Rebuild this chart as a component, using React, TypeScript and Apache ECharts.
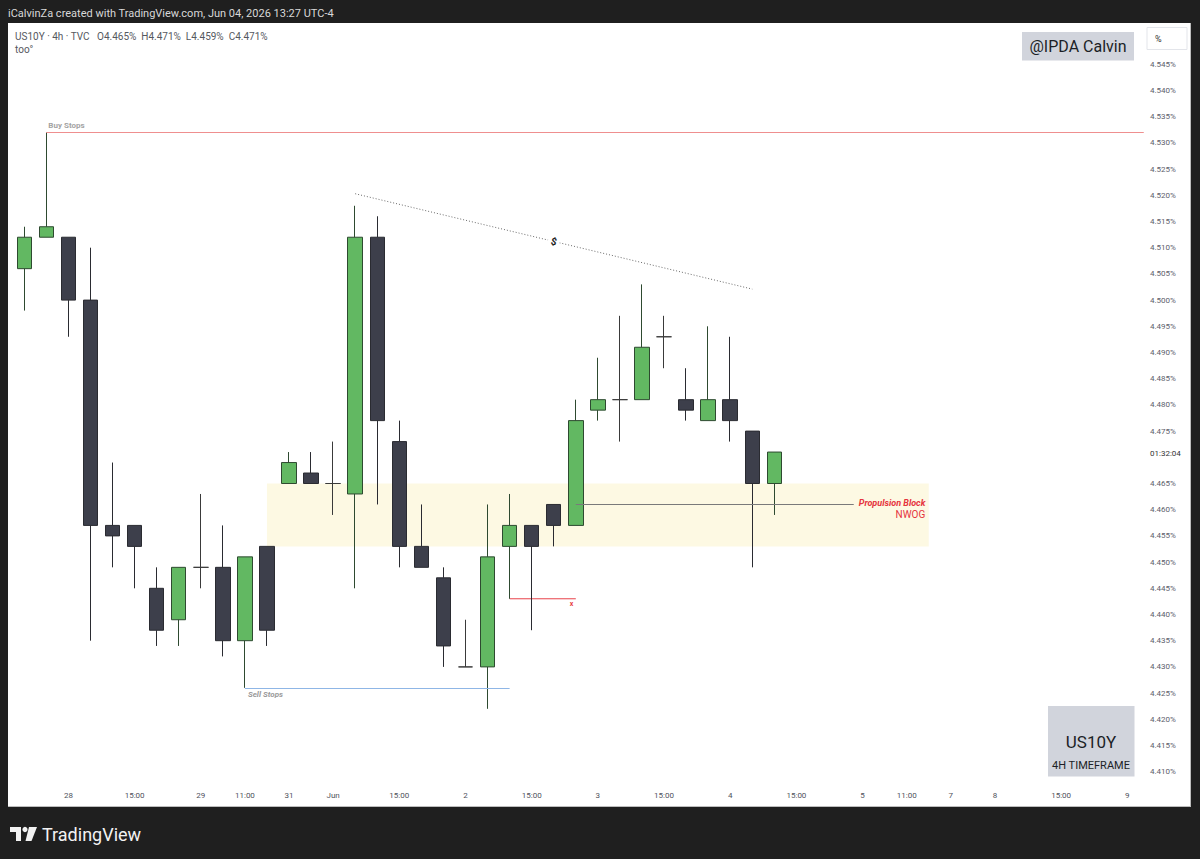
import React, { useEffect, useRef } from 'react';
import * as echarts from 'echarts';

// ---- data (bar index 0 = first visible candle, 4h bars) ----
const barIndex = [0, 1, 2, 3, 4, 5, 6, 7, 8, 9, 10, 11, 12, 13, 14, 15, 16, 17, 18, 19, 20, 21, 22, 23, 24, 25, 26, 27, 28, 29, 30, 31, 32, 33, 34];
const opens = [4.506, 4.512, 4.512, 4.5, 4.457, 4.457, 4.445, 4.439, 4.449, 4.449, 4.435, 4.453, 4.465, 4.467, 4.465, 4.463, 4.512, 4.473, 4.453, 4.447, 4.43, 4.43, 4.453, 4.457, 4.461, 4.457, 4.479, 4.481, 4.481, 4.493, 4.481, 4.477, 4.481, 4.475, 4.465];
const highs = [4.514, 4.532, 4.512, 4.51, 4.469, 4.457, 4.449, 4.449, 4.463, 4.457, 4.451, 4.453, 4.471, 4.471, 4.473, 4.518, 4.516, 4.477, 4.461, 4.449, 4.439, 4.461, 4.463, 4.457, 4.461, 4.481, 4.489, 4.497, 4.503, 4.497, 4.487, 4.495, 4.493, 4.475, 4.471];
const lows = [4.498, 4.512, 4.493, 4.435, 4.449, 4.445, 4.434, 4.434, 4.445, 4.432, 4.426, 4.434, 4.465, 4.465, 4.459, 4.445, 4.461, 4.449, 4.449, 4.43, 4.43, 4.422, 4.443, 4.437, 4.453, 4.457, 4.477, 4.473, 4.481, 4.487, 4.477, 4.477, 4.473, 4.449, 4.459];
const closes = [4.512, 4.514, 4.5, 4.457, 4.455, 4.453, 4.437, 4.449, 4.449, 4.435, 4.451, 4.437, 4.469, 4.465, 4.465, 4.512, 4.477, 4.453, 4.449, 4.434, 4.43, 4.451, 4.457, 4.453, 4.457, 4.477, 4.481, 4.481, 4.491, 4.493, 4.479, 4.481, 4.477, 4.465, 4.471];

const priceTicks = [4.41, 4.415, 4.42, 4.425, 4.43, 4.435, 4.44, 4.445, 4.45, 4.455, 4.46, 4.465, 4.475, 4.48, 4.485, 4.49, 4.495, 4.5, 4.505, 4.51, 4.515, 4.52, 4.525, 4.53, 4.535, 4.54, 4.545];
const timeTickIndex = [2, 5, 8, 10, 12, 14, 17, 20, 23, 26, 29, 32, 35, 38, 40, 42, 44, 47, 50];
const timeTickLabels = ['28', '15:00', '29', '11:00', '31', 'Jun', '15:00', '2', '15:00', '3', '15:00', '4', '15:00', '5', '11:00', '7', '8', '15:00', '9'];

// annotation levels
const buyStopsLevel = 4.532;
const buyStopsFrom = 1;
const sellStopsLevel = 4.426;
const sellStopsFrom = 10;
const sellStopsTo = 22;
const zoneTop = 4.465;
const zoneBottom = 4.453;
const zoneFrom = 11;
const zoneTo = 41;
const propulsionLevel = 4.461;
const propulsionFrom = 25;
const propulsionTo = 37.6;
const lowMarkLevel = 4.443;
const lowMarkFrom = 22;
const lowMarkTo = 25;
const trendFrom = [15, 4.5203];
const trendTo = [33, 4.5021];

// ---- layout ----
const GRID_LEFT = 8;
const GRID_TOP = 23;
const GRID_W = 1136;
const GRID_H = 758;
const X_MIN = -0.739;
const X_MAX = 50.757;
const Y_MAX = 4.552882;
const Y_MIN = 4.408225;
const FONT = 'Roboto, "Noto Sans", sans-serif';
const RED = '#e8424a';

export default function App() {
  const ref = useRef<HTMLDivElement>(null);

  useEffect(() => {
    if (!ref.current) return;
    const chart = echarts.init(ref.current, undefined, { renderer: 'svg' });
    const candleData = barIndex.map((x, i) => [x, opens[i], closes[i], lows[i], highs[i]]);

    const option: any = {
      animation: false,
      backgroundColor: 'transparent',
      grid: { left: GRID_LEFT, top: GRID_TOP, width: GRID_W, height: GRID_H, containLabel: false, outerBoundsMode: 'none' },
      xAxis: {
        type: 'value',
        min: X_MIN,
        max: X_MAX,
        axisLine: { show: false },
        axisTick: { show: false },
        splitLine: { show: false },
        axisLabel: {
          customValues: timeTickIndex,
          formatter: (v: number) => {
            const k = timeTickIndex.indexOf(Math.round(v));
            return k >= 0 ? timeTickLabels[k] : '';
          },
          color: '#4f525c',
          fontSize: 8,
          fontFamily: FONT,
          margin: 10,
        },
      },
      yAxis: {
        type: 'value',
        position: 'right',
        min: Y_MIN,
        max: Y_MAX,
        scale: true,
        axisLine: { show: false },
        axisTick: { show: false },
        splitLine: { show: false },
        axisLabel: {
          customValues: priceTicks,
          formatter: (v: number) => v.toFixed(3) + '%',
          color: '#5d606b',
          fontSize: 8,
          fontFamily: FONT,
          margin: 6,
          align: 'left',
        },
      },
      series: [
        {
          type: 'candlestick',
          data: candleData,
          barWidth: 15,
          z: 3,
          itemStyle: {
            color: '#62b862',
            color0: '#3d3f4b',
            borderColor: '#2e4a30',
            borderColor0: '#2a2b31',
            borderColorDoji: '#3a3a3a',
            borderWidth: 1,
          },
          markArea: {
            silent: true,
            itemStyle: { color: '#fdf9e3' },
            data: [[{ coord: [zoneFrom, zoneTop] }, { coord: [zoneTo, zoneBottom] }]],
          },
        },
        {
          type: 'line',
          data: [[lowMarkFrom, lowMarkLevel], [lowMarkTo, lowMarkLevel]],
          silent: true,
          z: 2,
          symbol: 'none',
          showSymbol: false,
          color: RED,
          lineStyle: { color: RED, width: 1 },
          endLabel: {
            show: true,
            formatter: 'x',
            color: RED,
            fontSize: 7,
            fontWeight: 'bold',
            fontFamily: FONT,
            offset: [-14, 5],
          },
        },
        {
          type: 'line',
          data: [],
          silent: true,
          markLine: {
            silent: true,
            symbol: ['none', 'none'],
            data: [
              [
                {
                  coord: [buyStopsFrom, buyStopsLevel],
                  lineStyle: { color: '#ef8f8f', width: 1, type: 'solid' },
                  label: {
                    show: true, position: 'insideStartTop', formatter: 'Buy Stops',
                    color: '#a3a3a3', fontSize: 8, fontWeight: 'bold', fontFamily: FONT, distance: [2, 3],
                  },
                },
                { coord: [X_MAX - 0.01, buyStopsLevel] },
              ],
              [
                {
                  coord: [sellStopsFrom, sellStopsLevel],
                  lineStyle: { color: '#8fb6e6', width: 1, type: 'solid' },
                  label: {
                    show: true, position: 'insideStartBottom', formatter: 'Sell Stops',
                    color: '#9a9a9a', fontSize: 8, fontStyle: 'italic', fontWeight: 'bold', fontFamily: FONT, distance: [3, 3],
                  },
                },
                { coord: [sellStopsTo, sellStopsLevel] },
              ],
              [
                {
                  coord: [propulsionFrom, propulsionLevel],
                  lineStyle: { color: '#7a7a7a', width: 1, type: 'solid' },
                  label: {
                    show: true, position: 'end', distance: 5,
                    formatter: '{a|Propulsion Block}\n{b|NWOG}',
                    padding: [9, 0, 0, 0],
                    rich: {
                      a: { color: '#e5343d', fontSize: 9, fontWeight: 'bold', fontStyle: 'italic', fontFamily: FONT, lineHeight: 11, align: 'right' },
                      b: { color: '#e5343d', fontSize: 10, fontFamily: FONT, lineHeight: 11, align: 'right' },
                    },
                  },
                },
                { coord: [propulsionTo, propulsionLevel] },
              ],
              [
                {
                  coord: trendFrom,
                  lineStyle: { color: '#6b6b6b', width: 1, type: [1, 2] },
                  label: {
                    show: true, position: 'insideMiddle', formatter: '$',
                    color: '#222', fontSize: 10, fontWeight: 'bold', fontFamily: FONT,
                    backgroundColor: '#ffffff', padding: [0, 3],
                  },
                },
                { coord: trendTo },
              ],
            ],
          },
        },
      ],
      graphic: [
        {
          type: 'text', x: 8, y: 13,
          style: { text: 'iCalvinZa created with TradingView.com, Jun 04, 2026 13:27 UTC-4', fill: '#d8d8d8', font: '11px ' + FONT, verticalAlign: 'middle' },
        },
        {
          type: 'text', x: 15, y: 36,
          style: { text: 'US10Y · 4h · TVC   O4.465%  H4.471%  L4.459%  C4.471%', fill: '#555860', font: '10px ' + FONT, verticalAlign: 'middle' },
        },
        {
          type: 'text', x: 15, y: 49.5,
          style: { text: 'too°', fill: '#555860', font: '10px ' + FONT, verticalAlign: 'middle' },
        },
        {
          type: 'rect', shape: { x: 1022, y: 32, width: 112, height: 28.5 },
          style: { fill: '#d1d4dc' },
        },
        {
          type: 'text', x: 1078, y: 46.5,
          style: { text: '@IPDA Calvin', fill: '#1c1f26', font: '16px ' + FONT, align: 'center', verticalAlign: 'middle' },
        },
        {
          type: 'rect', shape: { x: 1147, y: 27.5, width: 40, height: 22 },
          style: { fill: '#ffffff', stroke: '#e3e5ea', lineWidth: 1 },
        },
        {
          type: 'text', x: 1155, y: 38.5,
          style: { text: '%', fill: '#333', font: '9px ' + FONT, verticalAlign: 'middle' },
        },
        {
          type: 'text', x: 1150, y: 453,
          style: { text: '01:32:04', fill: '#333', font: '8px ' + FONT, verticalAlign: 'middle' },
        },
        {
          type: 'rect', shape: { x: 1048, y: 706, width: 86.5, height: 70.5 },
          style: { fill: '#d1d4dc' },
        },
        {
          type: 'text', x: 1091, y: 742,
          style: { text: 'US10Y', fill: '#1c1f26', font: '17px ' + FONT, align: 'center', verticalAlign: 'middle' },
        },
        {
          type: 'text', x: 1091, y: 765,
          style: { text: '4H TIMEFRAME', fill: '#1c1f26', font: '11px ' + FONT, align: 'center', verticalAlign: 'middle' },
        },
        {
          type: 'polygon',
          shape: { points: [[10, 827], [21, 827], [21, 841], [16, 841], [16, 832], [10, 832]] },
          style: { fill: '#f2f2f2' },
        },
        {
          type: 'circle', shape: { cx: 25, cy: 829.5, r: 2.6 },
          style: { fill: '#f2f2f2' },
        },
        {
          type: 'polygon',
          shape: { points: [[29, 827], [37, 827], [31.5, 841], [25.5, 841]] },
          style: { fill: '#f2f2f2' },
        },
        {
          type: 'text', x: 42, y: 834,
          style: { text: 'TradingView', fill: '#f2f2f2', font: '18px ' + FONT, verticalAlign: 'middle' },
        },
      ],
    };

    chart.setOption(option);
    return () => chart.dispose();
  }, []);

  return (
    <div style={{ position: 'fixed', left: 0, top: 0, width: 1200, height: 859, background: '#1f1f1f' }}>
      <div
        style={{
          position: 'absolute', left: 8, top: 23, width: 1182, height: 783,
          background: '#ffffff', borderRight: '1px solid #bdbdbd', borderBottom: '1px solid #bdbdbd',
        }}
      />
      <div ref={ref} style={{ position: 'absolute', left: 0, top: 0, width: 1200, height: 859 }} />
    </div>
  );
}
